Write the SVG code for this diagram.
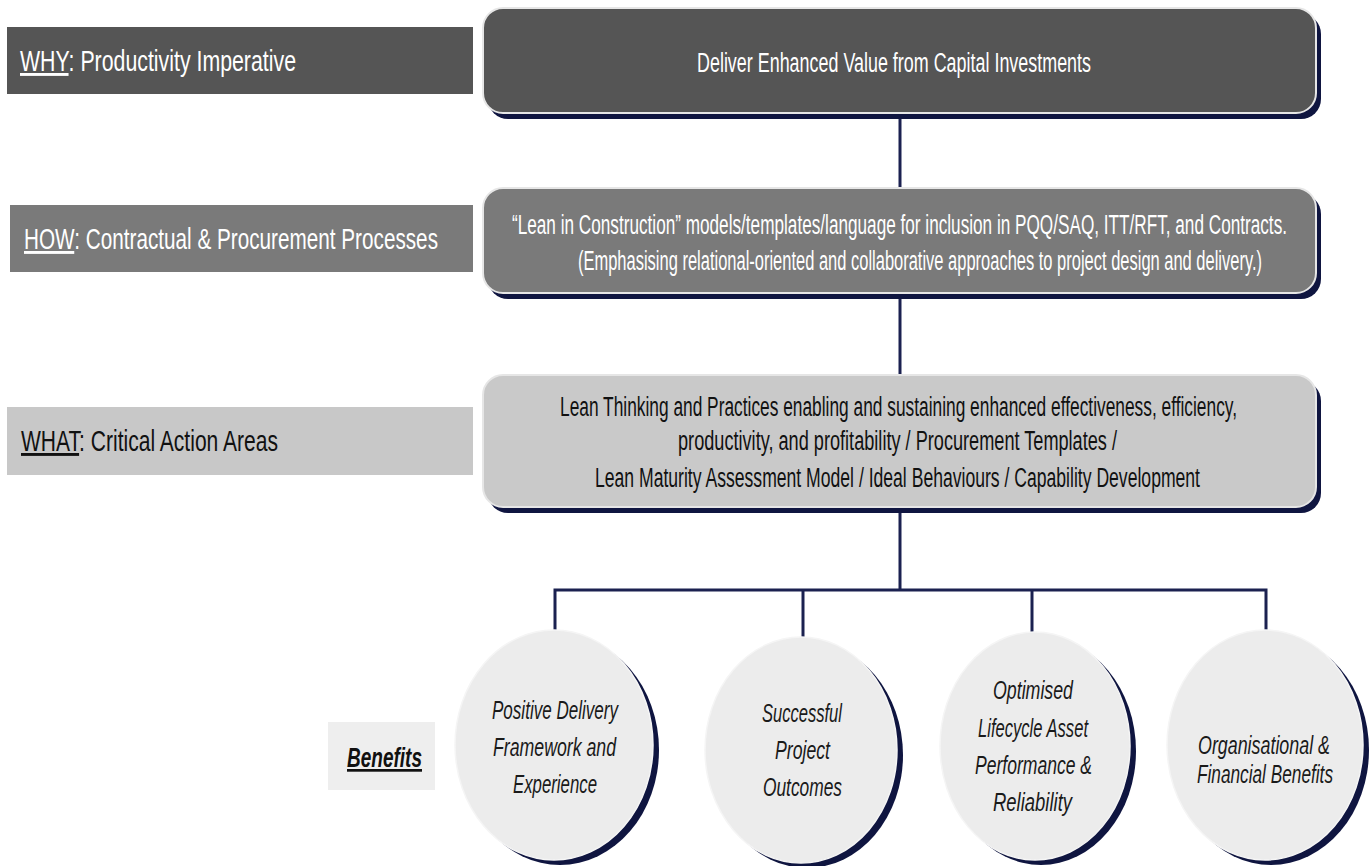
<svg xmlns="http://www.w3.org/2000/svg" width="1372" height="866" viewBox="0 0 1372 866">
<style>
  text { font-family: "Liberation Sans Narrow", "Liberation Sans", Arial, sans-serif; }
  .lbl { font-size: 29px; }
  .box { font-size: 27px; }
  .circ { font-size: 26px; font-style: italic; fill: #1a1a1a; }
  .shadow { fill: #0f1540; }
  .conn { stroke: #1b2150; stroke-width: 3; fill: none; }
  .u { text-decoration: underline; }
</style>
<rect width="1372" height="866" fill="#ffffff"/>

<g id="connectors">
  <line class="conn" x1="900" y1="112" x2="900" y2="188"/>
  <line class="conn" x1="900" y1="293" x2="900" y2="375"/>
  <line class="conn" x1="900" y1="507" x2="900" y2="590"/>
  <polyline class="conn" points="555,630 555,590 1266,590 1266,630"/>
  <line class="conn" x1="803" y1="590" x2="803" y2="637"/>
  <line class="conn" x1="1032" y1="590" x2="1032" y2="632"/>
</g>

<g id="label-why">
  <rect x="7" y="27" width="466" height="67" fill="#555555"/>
  <text class="lbl" x="20" y="71" fill="#ffffff" textLength="276" lengthAdjust="spacingAndGlyphs"><tspan class="u">WHY</tspan>: Productivity Imperative</text>
</g>
<g id="label-how">
  <rect x="10" y="205" width="463" height="67" fill="#7a7a7a"/>
  <text class="lbl" x="24" y="249" fill="#ffffff" textLength="414" lengthAdjust="spacingAndGlyphs"><tspan class="u">HOW</tspan>: Contractual &amp; Procurement Processes</text>
</g>
<g id="label-what">
  <rect x="7" y="407" width="466" height="68" fill="#c8c8c8"/>
  <text class="lbl" x="21" y="451" fill="#111111" textLength="257" lengthAdjust="spacingAndGlyphs"><tspan class="u">WHAT</tspan>: Critical Action Areas</text>
</g>
<g id="label-benefits">
  <rect x="328" y="722" width="107" height="68" fill="#eeeeee"/>
  <text x="347" y="767" font-size="27" font-weight="bold" font-style="italic" fill="#111111" textLength="75" lengthAdjust="spacingAndGlyphs"><tspan class="u">Benefits</tspan></text>
</g>

<g id="why-box">
  <rect class="shadow" x="488" y="14" width="833" height="105" rx="20"/>
  <rect x="483" y="8" width="833" height="105" rx="20" fill="#555555" stroke="#e6e6e6" stroke-width="2"/>
  <text class="box" x="697" y="72" fill="#ffffff" textLength="394" lengthAdjust="spacingAndGlyphs">Deliver Enhanced Value from Capital Investments</text>
</g>
<g id="how-box">
  <rect class="shadow" x="488" y="194" width="833" height="105" rx="20"/>
  <rect x="483" y="188" width="833" height="105" rx="20" fill="#7a7a7a" stroke="#e6e6e6" stroke-width="2"/>
  <text class="box" x="512" y="234" fill="#ffffff" textLength="775" lengthAdjust="spacingAndGlyphs">“Lean in Construction” models/templates/language for inclusion in PQQ/SAQ, ITT/RFT, and Contracts.</text>
  <text class="box" x="578" y="270" fill="#ffffff" textLength="684" lengthAdjust="spacingAndGlyphs">(Emphasising relational-oriented and collaborative approaches to project design and delivery.)</text>
</g>
<g id="what-box">
  <rect class="shadow" x="488" y="381" width="833" height="132" rx="20"/>
  <rect x="483" y="375" width="833" height="132" rx="20" fill="#c9c9c9" stroke="#e6e6e6" stroke-width="2"/>
  <text class="box" x="560" y="416" fill="#111111" textLength="677" lengthAdjust="spacingAndGlyphs">Lean Thinking and Practices enabling and sustaining enhanced effectiveness,  efficiency,</text>
  <text class="box" x="678" y="450" fill="#111111" textLength="439" lengthAdjust="spacingAndGlyphs">productivity, and profitability / Procurement Templates /</text>
  <text class="box" x="595" y="487" fill="#111111" textLength="605" lengthAdjust="spacingAndGlyphs">Lean Maturity Assessment Model / Ideal Behaviours / Capability Development</text>
</g>

<g id="benefit-1">
  <ellipse class="shadow" cx="560" cy="750" rx="99" ry="115"/>
  <ellipse cx="554" cy="745" rx="99" ry="115" fill="#ececec" stroke="#f5f5f5" stroke-width="1.5"/>
  <text class="circ" x="492" y="719" textLength="126" lengthAdjust="spacingAndGlyphs">Positive Delivery</text>
  <text class="circ" x="493" y="756" textLength="123" lengthAdjust="spacingAndGlyphs">Framework and</text>
  <text class="circ" x="513" y="793" textLength="84" lengthAdjust="spacingAndGlyphs">Experience</text>
</g>
<g id="benefit-2">
  <ellipse class="shadow" cx="807" cy="755" rx="96" ry="113"/>
  <ellipse cx="801" cy="750" rx="96" ry="113" fill="#ececec" stroke="#f5f5f5" stroke-width="1.5"/>
  <text class="circ" x="762" y="722" textLength="80" lengthAdjust="spacingAndGlyphs">Successful</text>
  <text class="circ" x="775" y="759" textLength="55" lengthAdjust="spacingAndGlyphs">Project</text>
  <text class="circ" x="763" y="796" textLength="79" lengthAdjust="spacingAndGlyphs">Outcomes</text>
</g>
<g id="benefit-3">
  <ellipse class="shadow" cx="1041" cy="751" rx="95" ry="114"/>
  <ellipse cx="1035" cy="746" rx="95" ry="114" fill="#ececec" stroke="#f5f5f5" stroke-width="1.5"/>
  <text class="circ" x="993" y="699" textLength="80" lengthAdjust="spacingAndGlyphs">Optimised</text>
  <text class="circ" x="978" y="737" textLength="110" lengthAdjust="spacingAndGlyphs">Lifecycle Asset</text>
  <text class="circ" x="975" y="774" textLength="117" lengthAdjust="spacingAndGlyphs">Performance &amp;</text>
  <text class="circ" x="993" y="811" textLength="79" lengthAdjust="spacingAndGlyphs">Reliability</text>
</g>
<g id="benefit-4">
  <ellipse class="shadow" cx="1271" cy="750" rx="98" ry="115"/>
  <ellipse cx="1265" cy="745" rx="98" ry="115" fill="#ececec" stroke="#f5f5f5" stroke-width="1.5"/>
  <text class="circ" x="1198" y="754" textLength="132" lengthAdjust="spacingAndGlyphs">Organisational &amp;</text>
  <text class="circ" x="1197" y="783" textLength="136" lengthAdjust="spacingAndGlyphs">Financial Benefits</text>
</g>
</svg>
